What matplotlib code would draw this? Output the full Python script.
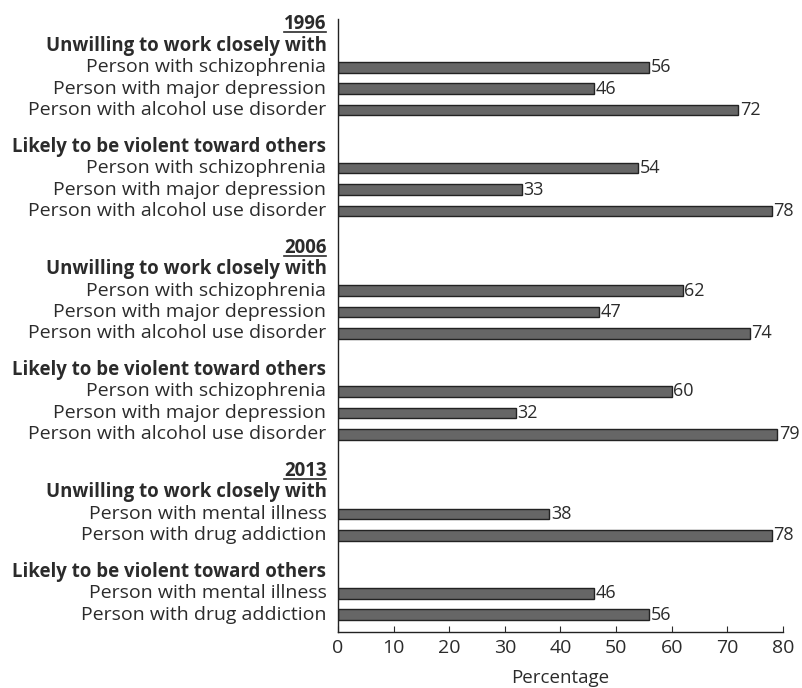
import matplotlib.pyplot as plt
import matplotlib.transforms as mtransforms
from matplotlib.lines import Line2D

plt.rcParams['font.family'] = ['Open Sans', 'DejaVu Sans']

years = ["1996", "2006", "2013"]
heads = ["Unwilling to work closely with", "Likely to be violent toward others"]
persons_old = ["Person with schizophrenia", "Person with major depression",
               "Person with alcohol use disorder"]
persons_new = ["Person with mental illness", "Person with drug addiction"]

unwilling_1996 = [56, 46, 72]
violent_1996 = [54, 33, 78]
unwilling_2006 = [62, 47, 74]
violent_2006 = [60, 32, 79]
unwilling_2013 = [38, 78]
violent_2013 = [46, 56]

groups = [
    (years[0], heads[0], persons_old, unwilling_1996),
    (None, heads[1], persons_old, violent_1996),
    (years[1], heads[0], persons_old, unwilling_2006),
    (None, heads[1], persons_old, violent_2006),
    (years[2], heads[0], persons_new, unwilling_2013),
    (None, heads[1], persons_new, violent_2013),
]

TXT = "#2b2b2b"
BAR = "#666666"

fig = plt.figure(figsize=(8.03, 6.88), dpi=100)
ax = fig.add_axes([0.421, 0.0814, 0.554, 0.8906])

lab_tr = mtransforms.blended_transform_factory(ax.transAxes, ax.transData)
pos = 0.0
year_texts = []
for i, (yr, head, persons, vals) in enumerate(groups):
    if i > 0:
        pos += 1.7
    if yr is not None:
        t = ax.text(-0.026, pos, yr, transform=lab_tr, ha="right", va="center",
                    fontsize=13.4, fontweight="bold", color=TXT)
        year_texts.append(t)
        pos += 1
    ax.text(-0.026, pos, head, transform=lab_tr, ha="right", va="center",
            fontsize=13.4, fontweight="bold", color=TXT)
    for p, v in zip(persons, vals):
        pos += 1
        ax.barh(pos, v, height=0.5, color=BAR, edgecolor="#222222", linewidth=1)
        ax.text(-0.026, pos, p, transform=lab_tr, ha="right", va="center",
                fontsize=14, color=TXT)
        ax.text(v + 0.25, pos, str(v), ha="left", va="center", fontsize=13,
                color=TXT)

ax.set_xlim(0, 80)
ax.set_ylim(28.3, -0.23)
ax.set_yticks([])
ax.set_xticks(range(0, 81, 10))
ax.tick_params(axis="x", direction="in", length=4, labelsize=14, colors=TXT,
               pad=5)
ax.set_xlabel("Percentage", fontsize=13.5, color=TXT, labelpad=9)
for s in ["top", "right"]:
    ax.spines[s].set_visible(False)
for s in ["left", "bottom"]:
    ax.spines[s].set_color("#222222")
    ax.spines[s].set_linewidth(1)

# underline the year headings
fig.canvas.draw()
r = fig.canvas.get_renderer()
for t in year_texts:
    bb = t.get_window_extent(r)
    y = bb.y0 + 2
    fig.add_artist(Line2D([bb.x0 / fig.bbox.width, bb.x1 / fig.bbox.width],
                          [y / fig.bbox.height] * 2, color=TXT, lw=1.2))

fig.savefig("out.png", dpi=100)
